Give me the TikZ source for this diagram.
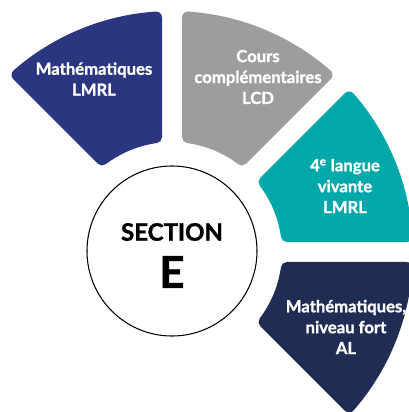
\documentclass[tikz,border=0pt]{standalone}
\usepackage{fontspec}
\setmainfont{Lato}[BoldFeatures={FakeBold=1.3}]
\usetikzlibrary{calc}
\definecolor{cNavyA}{RGB}{43,54,128}
\definecolor{cGrey}{RGB}{157,157,156}
\definecolor{cTeal}{RGB}{0,168,170}
\definecolor{cNavyB}{RGB}{31,45,84}
\begin{document}
\begin{tikzpicture}[x=0.75pt,y=0.75pt,
  sectortext/.style={text=white,font=\bfseries\fontsize{12.5}{15.7}\selectfont,align=center,inner sep=0pt},
  sectorshape/.style={fill=#1,draw=#1,line width=9pt,line join=round}]
\useasboundingbox (0,0) rectangle (409,412);
\coordinate (C) at (172,160);
% shrunk geometry: R'=235, r'=116, d'=16
\pgfmathsetmacro{\Ro}{235}
\pgfmathsetmacro{\Ri}{116}
\pgfmathsetmacro{\ao}{asin(16/\Ro)}
\pgfmathsetmacro{\ai}{asin(16/\Ri)}
\foreach \t/\col in {90/cNavyA,45/cGrey,0/cTeal,-45/cNavyB}{
  \pgfmathsetmacro{\sa}{\t+\ao}
  \pgfmathsetmacro{\ea}{\t+45-\ao}
  \pgfmathsetmacro{\sb}{\t+45-\ai}
  \pgfmathsetmacro{\eb}{\t+\ai}
  \draw[sectorshape=\col] ($(C)+(\sa:\Ro)$) arc[start angle=\sa,end angle=\ea,radius=\Ro]
    -- ($(C)+(\sb:\Ri)$) arc[start angle=\sb,end angle=\eb,radius=\Ri] -- cycle;
}
\node[sectortext] (mlmrl) at (94,333) {Mathématiques\\LMRL};
\node[sectortext] (cours) at (258,335) {Cours\\complémentaires\\LCD};
\node[sectortext] (langue) at (345,226) {4\textsuperscript{e} langue\\vivante\\LMRL};
\node[sectortext] (mal) at (346,85) {Mathématiques,\\niveau fort\\AL};
\node[circle,draw=black,line width=0.8pt,fill=white,minimum size=170pt*0.75,inner sep=0pt] (sec) at (172,161) {};
\node[font=\bfseries\fontsize{18}{20}\selectfont,inner sep=0pt] (sect) at (172,180) {SECTION};
\node[font=\bfseries\fontsize{33}{36}\selectfont,inner sep=0pt] (lettre) at (172,140) {E};
\end{tikzpicture}
\end{document}
